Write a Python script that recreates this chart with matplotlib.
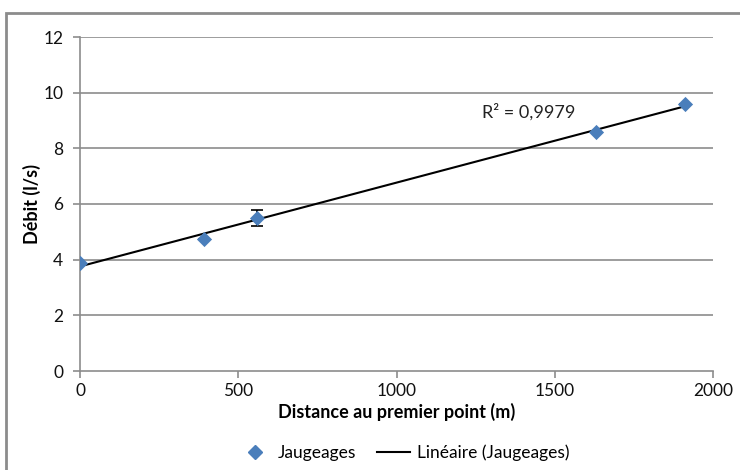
import numpy as np
import matplotlib.pyplot as plt
from matplotlib.patches import Rectangle
from matplotlib.lines import Line2D

plt.rcParams['font.family'] = ['Lato', 'DejaVu Sans']

distance = [0, 392, 560, 1630, 1910]
debit = [3.87, 4.76, 5.50, 8.59, 9.59]
debit_err = [0, 0, 0.3, 0, 0]
r2_label = "R² = 0,9979"
x_ticks = [0, 500, 1000, 1500, 2000]
y_ticks = [0, 2, 4, 6, 8, 10, 12]

fig = plt.figure(figsize=(7.4, 4.7), dpi=100)
ax = fig.add_axes([80 / 740, 1 - 371 / 470, 633 / 740, 334 / 470])

# outer chart frame
fig.patches.append(Rectangle((6 / 740, -0.05), 1.1, (470 - 13) / 470 + 0.05,
                             transform=fig.transFigure, fill=False,
                             edgecolor='#8c8c8c', linewidth=2.0))

grid_c = '#8c8c8c'
for y in y_ticks[1:]:
    ax.axhline(y, color=grid_c, linewidth=1.2, zorder=0)

# linear trend
coef = np.polyfit(distance, debit, 1)
xs = np.array([distance[0], distance[-1]])
ax.plot(xs, np.polyval(coef, xs), color='black', linewidth=1.5, zorder=2)

ax.errorbar(distance, debit, yerr=debit_err, fmt='none', ecolor='black',
            elinewidth=1.2, capsize=4, capthick=1.2, zorder=3)
ax.scatter(distance, debit, marker='D', s=60, color='#4a7ebb', zorder=4,
           linewidths=0)

ax.text(1270, 9.1, r2_label, fontsize=13, color='#222222')

ax.set_xlim(0, 2000)
ax.set_ylim(0, 12)
ax.set_xticks(x_ticks)
ax.set_yticks(y_ticks)
ax.tick_params(axis='both', labelsize=12.5, color=grid_c, length=5, width=1.2,
               labelcolor='#111111')
ax.tick_params(axis='y', pad=7)
for s in ['top', 'right']:
    ax.spines[s].set_visible(False)
for s in ['left', 'bottom']:
    ax.spines[s].set_color(grid_c)
    ax.spines[s].set_linewidth(1.2)

ax.set_xlabel('Distance au premier point (m)', fontsize=13, fontweight='bold',
              labelpad=3)
ax.set_ylabel('Débit (l/s)', fontsize=13, fontweight='bold', labelpad=2)

handles = [Line2D([], [], marker='D', linestyle='none', color='#4a7ebb',
                  markersize=7),
           Line2D([], [], color='black', linewidth=1.5)]
fig.legend(handles, ['Jaugeages', 'Linéaire (Jaugeages)'], loc='center',
           bbox_to_anchor=(404 / 740, 1 - 453 / 470), ncol=2, frameon=False,
           fontsize=12.5, handlelength=1.9, columnspacing=1.2, handletextpad=0.4)

fig.savefig('out.png', dpi=100)
